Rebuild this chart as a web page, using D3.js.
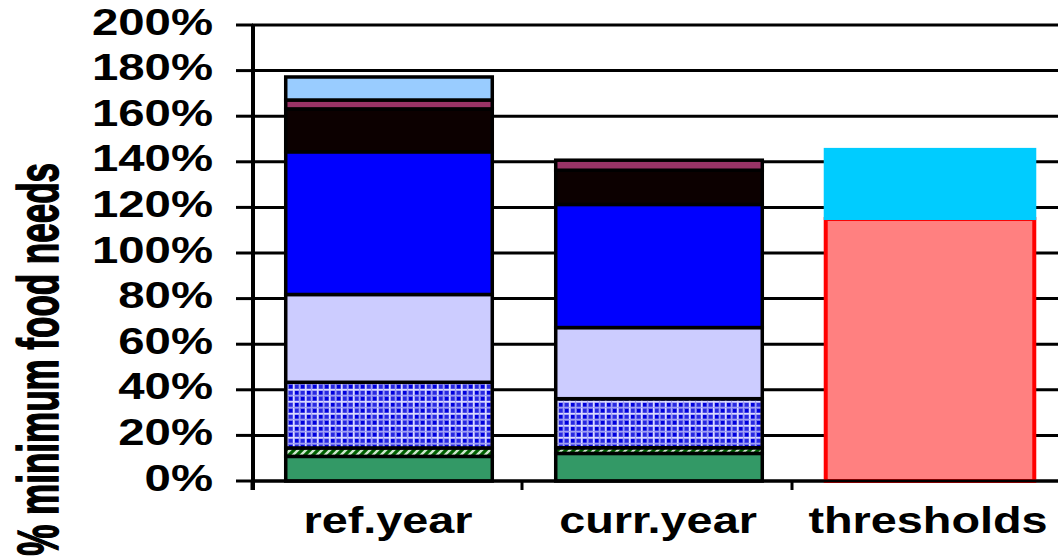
<!DOCTYPE html>
<html>
<head>
<meta charset="utf-8">
<script src="https://cdn.jsdelivr.net/npm/d3@7/dist/d3.min.js"></script>
<style>
  html, body { margin: 0; padding: 0; background: #ffffff; }
  svg { display: block; }
  text { font-family: "Liberation Sans", Arial, sans-serif; font-weight: bold; fill: #000; }
</style>
</head>
<body>
<svg id="chart" width="1058" height="556"></svg>
<script>
// ---- data ----
const categories = ["ref.year", "curr.year", "thresholds"];
const seriesNames = ["s1", "s2", "s3", "s4", "s5", "s6", "s7", "s8"];
const s1 = [10.8, 12.1, 0];   // green
const s2 = [3.7, 2.5, 0];     // green hatched
const s3 = [28.8, 21.5, 0];   // blue check
const s4 = [38.5, 31.2, 0];   // lavender
const s5 = [62.6, 54.0, 0];   // blue
const s6 = [18.8, 15.0, 0];   // black
const s7 = [3.9, 4.4, 0];     // maroon
const s8 = [10.1, 0, 0];      // light blue
const thresholdLow = [0, 0, 114.9];
const thresholdHigh = [0, 0, 31.2];
const yTicks = [0, 20, 40, 60, 80, 100, 120, 140, 160, 180, 200];
const yTickLabels = ["0%", "20%", "40%", "60%", "80%", "100%", "120%", "140%", "160%", "180%", "200%"];
const yTitle = "% minimum food needs";

const seriesValues = [s1, s2, s3, s4, s5, s6, s7, s8];
const seriesFill = ["#339966", "url(#hatchGreen)", "url(#plaidBlue)", "#ccccff", "#0000ff", "#0c0000", "#993366", "#99ccff"];

const svg = d3.select("#chart");
svg.append("rect").attr("width", 1058).attr("height", 556).attr("fill", "#fff");

// patterns
const defs = svg.append("defs");
const pg = defs.append("pattern").attr("id", "hatchGreen").attr("patternUnits", "userSpaceOnUse")
  .attr("width", 8).attr("height", 8);
pg.append("rect").attr("width", 8).attr("height", 8).attr("fill", "#cfe8cf");
pg.append("path").attr("d", "M-2,2 L2,-2 M0,8 L8,0 M6,10 L10,6").attr("stroke", "#006000").attr("stroke-width", 3.2);

const pb = defs.append("pattern").attr("id", "plaidBlue").attr("patternUnits", "userSpaceOnUse")
  .attr("width", 12).attr("height", 12);
pb.append("rect").attr("width", 12).attr("height", 12).attr("fill", "#7070ee");
pb.append("rect").attr("x", 1).attr("y", 1).attr("width", 3.5).attr("height", 3.5).attr("fill", "#0000dd");
pb.append("rect").attr("x", 7).attr("y", 7).attr("width", 3.5).attr("height", 3.5).attr("fill", "#0000dd");
pb.append("rect").attr("x", 7).attr("y", 1).attr("width", 3.5).attr("height", 3.5).attr("fill", "#2828e2");
pb.append("rect").attr("x", 1).attr("y", 7).attr("width", 3.5).attr("height", 3.5).attr("fill", "#2828e2");
pb.append("rect").attr("x", 5).attr("y", 0).attr("width", 1.5).attr("height", 12).attr("fill", "#d8d8ff");
pb.append("rect").attr("x", 0).attr("y", 5).attr("width", 12).attr("height", 1.5).attr("fill", "#d8d8ff");
pb.append("rect").attr("x", 11).attr("y", 0).attr("width", 1).attr("height", 12).attr("fill", "#a0a0f4");
pb.append("rect").attr("x", 0).attr("y", 11).attr("width", 12).attr("height", 1).attr("fill", "#a0a0f4");

// scales
const x = d3.scaleBand().domain(categories).range([254, 1064]).padding(0);
const y = d3.scaleLinear().domain([0, 200]).range([481, 25]);
const barW = x.bandwidth() * 0.765;
const barX = c => x(c) + (x.bandwidth() - barW) / 2;

// gridlines
svg.append("g").selectAll("line").data(yTicks).join("line")
  .attr("x1", 252).attr("x2", 1058)
  .attr("y1", d => y(d)).attr("y2", d => y(d))
  .attr("stroke", "#000").attr("stroke-width", 3);

// stacked bars
const stackData = categories.map((c, i) => {
  const o = { cat: c };
  seriesNames.forEach((n, k) => { o[n] = seriesValues[k][i]; });
  return o;
});
const stack = d3.stack().keys(seriesNames)(stackData);
const gBars = svg.append("g");
stack.forEach((layer, k) => {
  gBars.selectAll(null).data(layer.filter(d => d[1] - d[0] > 0)).join("rect")
    .attr("x", d => barX(d.data.cat))
    .attr("width", barW)
    .attr("y", d => y(d[1]))
    .attr("height", d => y(d[0]) - y(d[1]))
    .attr("fill", seriesFill[k])
    .attr("stroke", "#000")
    .attr("stroke-width", 3.5);
});

// thresholds bar
const thrData = categories.map((c, i) => ({ cat: c, low: thresholdLow[i], high: thresholdHigh[i] })).filter(d => d.low + d.high > 0);
gBars.selectAll(null).data(thrData).join("rect")
  .attr("x", d => barX(d.cat))
  .attr("width", barW + 2)
  .attr("y", d => y(d.low))
  .attr("height", d => y(0) - y(d.low))
  .attr("fill", "#ff8080")
  .attr("stroke", "#ff0000")
  .attr("stroke-width", 4);
gBars.selectAll(null).data(thrData).join("rect")
  .attr("x", d => barX(d.cat) - 2)
  .attr("width", barW + 6)
  .attr("y", d => y(d.low + d.high))
  .attr("height", d => y(d.low) - y(d.low + d.high) + 1)
  .attr("fill", "#00ccff");

// x axis baseline and ticks
svg.append("line").attr("x1", 252).attr("x2", 1058).attr("y1", y(0)).attr("y2", y(0))
  .attr("stroke", "#000").attr("stroke-width", 3);
svg.append("g").selectAll("line").data(categories).join("line")
  .attr("x1", d => x(d) - 2).attr("x2", d => x(d) - 2)
  .attr("y1", y(0)).attr("y2", y(0) + 9)
  .attr("stroke", "#000").attr("stroke-width", 3);

// y axis
svg.append("line").attr("x1", 253).attr("x2", 253).attr("y1", y(200) - 1).attr("y2", y(0) + 9)
  .attr("stroke", "#000").attr("stroke-width", 4);
svg.append("g").selectAll("line").data(yTicks).join("line")
  .attr("x1", 236).attr("x2", 253)
  .attr("y1", d => y(d)).attr("y2", d => y(d))
  .attr("stroke", "#000").attr("stroke-width", 3);

// y tick labels
svg.append("g").selectAll("g").data(yTicks).join("g")
  .attr("transform", d => `translate(213,${y(d) + 9.5}) scale(1.28,1)`)
  .append("text")
  .attr("text-anchor", "end")
  .attr("font-size", 37)
  .text((d, i) => yTickLabels[i]);

// x labels
svg.append("g").selectAll("g").data(categories).join("g")
  .attr("transform", d => `translate(${x(d) + x.bandwidth() / 2 - 1},533) scale(1.3,1)`)
  .append("text")
  .attr("text-anchor", "middle")
  .attr("font-size", 36)
  .text(d => d);

// y title
svg.append("g")
  .attr("transform", "translate(58,163) scale(1.62,1) rotate(-90)")
  .append("text")
  .attr("text-anchor", "end")
  .attr("font-size", 35)
  .attr("stroke", "#000")
  .attr("stroke-width", 0.9)
  .text(yTitle);
</script>
</body>
</html>
